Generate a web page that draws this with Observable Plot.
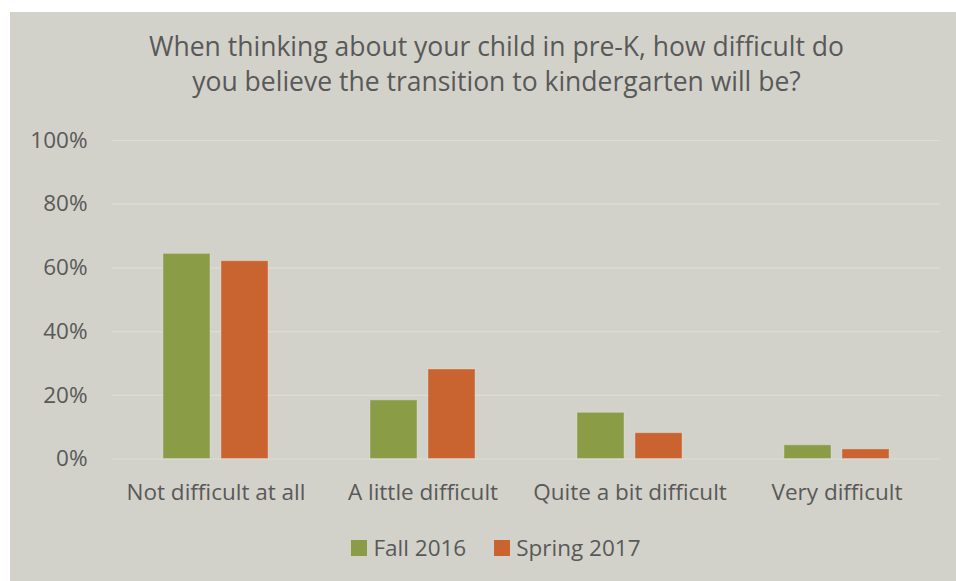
<!DOCTYPE html>
<html>
<head>
<meta charset="utf-8">
<script src="https://cdn.jsdelivr.net/npm/d3@7"></script>
<script src="https://cdn.jsdelivr.net/npm/@observablehq/plot@0.6"></script>
<style>
  html, body { margin: 0; padding: 0; background: #ffffff; }
  #frame {
    position: absolute; left: 10px; top: 12px; width: 946px; height: 569px;
    background: #d3d2ca; font-family: "Open Sans", sans-serif; color: #595959;
    overflow: hidden;
  }
  #title {
    position: absolute; left: 0; top: 17px; width: 973px; text-align: center;
    font-size: 26.5px; line-height: 35px; color: #595959; white-space: nowrap;
  }
  #chart { position: absolute; left: 0; top: 113px; }
  #legend {
    position: absolute; left: 0; top: 521px; width: 972px; text-align: center;
    font-size: 22.5px; line-height: 30px; white-space: nowrap;
  }
  .item { display: inline-flex; align-items: center; margin: 0 14px; }
  .sw { display: inline-block; width: 16px; height: 16px; margin-right: 6px; }
</style>
</head>
<body>
<div id="frame">
  <div id="title">When thinking about your child in pre-K, how difficult do<br>you believe the transition to kindergarten will be?</div>
  <div id="chart"></div>
  <div id="legend"></div>
</div>
<script>
const categories = ["Not difficult at all", "A little difficult", "Quite a bit difficult", "Very difficult"];
const seriesNames = ["Fall 2016", "Spring 2017"];
const fall2016 = [64.4, 18.4, 14.5, 4.3];
const spring2017 = [62.1, 28.1, 8.1, 3.0];
const yTicks = [0, 20, 40, 60, 80, 100];
const colors = ["#8b9c47", "#c9632f"];

const rows = categories.flatMap((c, i) => [
  {category: c, series: seriesNames[0], value: fall2016[i]},
  {category: c, series: seriesNames[1], value: spring2017[i]}
]);

const chart = Plot.plot({
  width: 946,
  height: 395,
  marginLeft: 101,
  marginRight: 15,
  marginTop: 15,
  marginBottom: 61.5,
  style: {background: "transparent", fontSize: "22.5px", fontFamily: "'Open Sans', sans-serif", color: "#595959"},
  fx: {domain: categories, padding: 0, label: null, tickSize: 0, tickPadding: 25, axis: "bottom"},
  x: {domain: seriesNames, axis: null, paddingInner: 0.186, paddingOuter: 0.852},
  y: {domain: [0, 100], ticks: yTicks, tickFormat: d => d + "%", tickSize: 0, tickPadding: 25, label: null},
  color: {domain: seriesNames, range: colors},
  marks: [
    Plot.ruleY(yTicks, {stroke: "#dddcd6", strokeWidth: 1.2}),
    Plot.barY(rows, {fx: "category", x: "series", y: "value", fill: "series", stroke: "#e3e2d9", strokeOpacity: 0.4, strokeWidth: 1, inset: 0})
  ]
});
document.getElementById("chart").appendChild(chart);

const legend = document.getElementById("legend");
seriesNames.forEach((s, i) => {
  const item = document.createElement("span");
  item.className = "item";
  const sw = document.createElement("span");
  sw.className = "sw";
  sw.style.background = colors[i];
  item.appendChild(sw);
  item.appendChild(document.createTextNode(s));
  legend.appendChild(item);
});
</script>
</body>
</html>
